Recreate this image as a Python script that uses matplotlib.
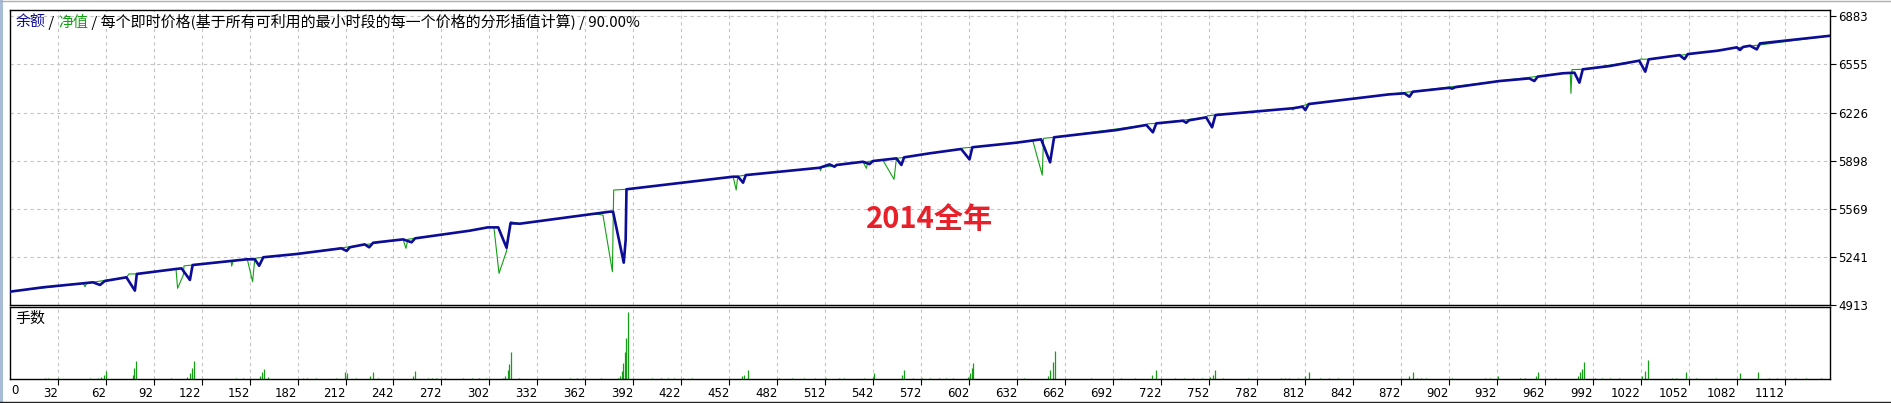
import matplotlib.pyplot as plt
from matplotlib.lines import Line2D
import numpy as np

plt.rcParams['font.family'] = ['DejaVu Sans', 'Noto Sans CJK SC']

# balance line (trade number, value)
bal_n = [2.2, 23, 48, 54, 58.5, 61.5, 75, 80.3, 81.5, 106, 109.5, 114.7, 116.4,
         150.3, 155.3, 158, 160.6, 181.3, 209.4, 212.7, 214.7, 224, 226.8, 229.3,
         248, 253.3, 255.5, 289.5, 301, 307.5, 312.7, 315.2, 321, 377.2, 379.3,
         386, 387.2, 387.7, 454.4, 457.5, 460.6, 462.3, 508.5, 514.7, 517.8, 519,
         535.6, 539.7, 541.8, 556.5, 559.6, 561.3, 577, 597, 602.2, 604, 631.4,
         647, 652.6, 655.1, 694, 712.8, 716.9, 719, 735.7, 737.7, 739.5, 750.2,
         753.9, 756, 804.3, 810.5, 812.2, 814.3, 864.6, 874.2, 877.3, 879.4,
         902.3, 904, 906, 933.6, 952.3, 955.4, 957.5, 973.2, 980.5, 983.6, 985.7,
         1002.3, 1021, 1024.8, 1026.9, 1046.2, 1049.3, 1051.4, 1058.5, 1070,
         1082, 1084, 1086, 1090.3, 1094.5, 1096.5, 1140.3]
bal_v = [5004, 5034, 5061, 5068, 5050, 5077, 5102, 5011, 5125, 5159, 5163, 5084, 5186,
         5225, 5225, 5181, 5239, 5261, 5300, 5282, 5307, 5327, 5307, 5338,
         5361, 5341, 5368, 5420, 5443, 5443, 5304, 5471, 5468, 5550, 5550,
         5202, 5357, 5703, 5789, 5789, 5748, 5800, 5850, 5873, 5857, 5869,
         5891, 5875, 5896, 5914, 5869, 5921, 5948, 5978, 5907, 5990, 6021,
         6044, 5887, 6058, 6107, 6142, 6092, 6153, 6171, 6157, 6174, 6194,
         6126, 6210, 6256, 6267, 6244, 6285, 6351, 6358, 6335, 6369,
         6396, 6390, 6400, 6442, 6460, 6442, 6472, 6495, 6499, 6431, 6522,
         6544, 6581, 6506, 6590, 6619, 6592, 6626, 6635, 6649,
         6672, 6654, 6675, 6683, 6658, 6699, 6751]

# equity line
eq_n = [2.2, 48, 49.1, 50.2, 75, 76.6, 81.5, 106, 107, 110.6, 111, 116.4, 140.5,
        140.8, 141.8, 150.6, 153.9, 155.3, 160.6, 181.3, 248, 249.8, 251, 255.5,
        289.5, 301, 304.8, 308, 312.7, 315.2, 321, 366.7, 373, 378.9, 379.7, 387.7,
        454.4, 456.3, 457.3, 462.3, 508.5, 509, 509.8, 535.6, 537.7, 538.7, 548,
        555, 556.5, 561.3, 577, 597, 598, 604, 631.4, 641.8, 647.7, 648.5, 655.1,
        712.8, 713.5, 719, 750.2, 751, 756, 804, 804.5, 805.5, 814.3, 864.6,
        973.2, 977.9, 978.3, 979, 985.7, 1021, 1021.7, 1026.9, 1140.3]
eq_v = [5004, 5061, 5038, 5063, 5102, 5125, 5125, 5159, 5027, 5118, 5180, 5186, 5212,
        5179, 5214, 5225, 5072, 5232, 5239, 5261, 5361, 5300, 5362, 5368,
        5420, 5443, 5443, 5129, 5281, 5482, 5468, 5536, 5527, 5140, 5698, 5703,
        5789, 5698, 5792, 5800, 5850, 5830, 5852, 5891, 5846, 5893, 5903,
        5771, 5914, 5921, 5948, 5978, 5985, 5990, 6021, 6034, 5800, 6051, 6058,
        6142, 6150, 6153, 6194, 6205, 6210, 6256, 6244, 6258, 6285, 6351,
        6495, 6497, 6358, 6520, 6522, 6581, 6592, 6590, 6751]

# lots per trade
lot_n = [24, 26, 32, 52, 57, 59, 61, 62, 79, 80, 81, 103, 113, 115, 116, 117.4,
         143.6, 147.8, 158.6, 159.7, 161.1, 163.4, 185.4, 188.2, 193.7, 206.3,
         211.6, 213, 218.8, 227.5, 229, 232.2, 254, 255.5, 263.4, 266.1, 268.9,
         274.5, 285.6, 291.2, 295.4, 299.6, 310.7, 312, 313.5, 314.3, 315.4, 320.4,
         352.5, 356.7, 360.8, 372, 382.4, 383.8, 384.6, 385.7, 386.6, 387.4, 388.5,
         403.6, 409.2, 413.4, 417.6, 423.2, 428.7, 459.7, 461, 463.6, 483, 491.5,
         498.4, 505.4, 512.3, 520.7, 523.5, 536, 541.7, 542.6, 559.8, 561.2,
         566.7, 572.2, 577.8, 583.4, 587.5, 591.7, 601.1, 602.5, 603.9, 604.7,
         636.3, 651.4, 652.8, 654.2, 655.6, 678, 697, 705.9, 716.6, 718.8, 731,
         736.5, 742, 747.6, 752.6, 754.3, 756, 761, 776.2, 796.8, 799.5, 802.3,
         807.8, 812, 814.2, 821.6, 827.1, 832.6, 876.8, 879.5, 882, 884.8, 887.5,
         904, 924.6, 927.4, 932.6, 946.6, 949.4, 956.6, 958, 968.6, 982.5, 983.8,
         985.2, 986.6, 993.4, 997.5, 1003, 1008.5, 1022.6, 1024.6, 1026.8, 1041.4,
         1044.2, 1050.2, 1056.5, 1068.9, 1084, 1095, 1101.9, 1107.4, 1118.4,
         1125.3, 1134.9]
lot_v = [0.01, 0.01, 0.01, 0.01, 0.01, 0.02, 0.04, 0.07, 0.04, 0.1, 0.16, 0.01, 0.02, 0.05, 0.1, 0.16,
         0.01, 0.01, 0.03, 0.06, 0.09, 0.02, 0.01, 0.01, 0.01, 0.01,
         0.06, 0.05, 0.01, 0.03, 0.06, 0.01, 0.03, 0.07, 0.01, 0.01, 0.01,
         0.01, 0.01, 0.01, 0.01, 0.01, 0.01, 0.03, 0.08, 0.13, 0.24, 0.01,
         0.01, 0.01, 0.01, 0.01, 0.01, 0.03, 0.07, 0.14, 0.24, 0.37, 0.6,
         0.01, 0.01, 0.01, 0.01, 0.01, 0.01, 0.03, 0.04, 0.08, 0.01, 0.01,
         0.01, 0.01, 0.01, 0.01, 0.01, 0.01, 0.02, 0.05, 0.04, 0.08,
         0.01, 0.01, 0.01, 0.01, 0.01, 0.01, 0.02, 0.05, 0.1, 0.14,
         0.01, 0.03, 0.08, 0.15, 0.25, 0.01, 0.01, 0.01, 0.04, 0.08, 0.01,
         0.01, 0.01, 0.01, 0.02, 0.04, 0.08, 0.01, 0.01, 0.01, 0.01, 0.01,
         0.01, 0.03, 0.06, 0.01, 0.01, 0.01, 0.03, 0.06, 0.01, 0.01, 0.01,
         0.01, 0.01, 0.01, 0.03, 0.01, 0.01, 0.03, 0.06, 0.01, 0.03, 0.06,
         0.09, 0.15, 0.01, 0.01, 0.01, 0.01, 0.03, 0.07, 0.17, 0.01,
         0.01, 0.06, 0.01, 0.01, 0.05, 0.06, 0.01, 0.01, 0.01,
         0.01, 0.01]

y_ticks = [4913, 5241, 5569, 5898, 6226, 6555, 6883]
x_ticks = [32, 62, 92, 122, 152, 182, 212, 242, 272, 302, 332, 362, 392, 422, 452,
           482, 512, 542, 572, 602, 632, 662, 692, 722, 752, 782, 812, 842, 872,
           902, 932, 962, 992, 1022, 1052, 1082, 1112]

W, H = 1891, 403
fig = plt.figure(figsize=(W / 100, H / 100), dpi=100)
fig.patch.set_facecolor('white')

ax1 = fig.add_axes([10 / W, (H - 305) / H, 1820 / W, 295 / H])
ax2 = fig.add_axes([10 / W, (H - 379) / H, 1820 / W, 72 / H])

blue = '#0c0c96'
green = '#14a014'
grid_kw = dict(color='#c4c4c4', linestyle=(0, (3, 3)), linewidth=0.8)

# main panel
ax1.plot(eq_n, eq_v, color=green, lw=0.8, zorder=3)
ax1.plot(bal_n, bal_v, color=blue, lw=1.9, zorder=4, solid_joinstyle='round')
ax1.set_xlim(2.2, 1140.3)
ax1.set_ylim(4913, 6927)
ax1.set_xticks(x_ticks)
ax1.set_yticks(y_ticks)
ax1.tick_params(axis='x', length=0, labelbottom=False)
ax1.yaxis.tick_right()
ax1.tick_params(axis='y', direction='out', length=4, width=0.8, pad=2,
                labelsize=8.5, colors='black')
ax1.grid(True, **grid_kw)
ax1.set_axisbelow(True)
for s in ax1.spines.values():
    s.set_linewidth(1.0)

ax1.text(577, 5497, '2014全年', color='#e8202a', fontsize=21, fontweight='bold',
         family=['Noto Sans CJK SC'], ha='center', va='center', zorder=5)

# title pieces
cjk = ['Noto Sans CJK SC']
t = ax1.text(0.003, 0.955, '余额', color='#0c0c96', fontsize=10.8, family=cjk,
             transform=ax1.transAxes, va='center', ha='left')
for txt, col in [(' / ', 'black'), ('净值', '#14a014'),
                 (' / 每个即时价格(基于所有可利用的最小时段的每一个价格的分形插值计算) / 90.00%', 'black')]:
    t = ax1.annotate(txt, xy=(1, 0), xycoords=t, va='bottom', ha='left',
                     color=col, fontsize=10.8, family=cjk)

# lots panel
ax2.vlines(lot_n, 0, lot_v, color=green, lw=0.9)
ax2.set_xlim(2.2, 1140.3)
ax2.set_ylim(0, 0.645)
ax2.set_yticks([])
ax2.set_xticks(x_ticks)
ax2.set_xticklabels([str(v) for v in x_ticks], ha='right')
ax2.tick_params(axis='x', direction='out', length=4, width=0.8, pad=1.5,
                labelsize=8.5, colors='black')
ax2.grid(True, axis='x', **grid_kw)
ax2.set_axisbelow(True)
for s in ax2.spines.values():
    s.set_linewidth(1.0)
ax2.text(0.003, 0.83, '手数', fontsize=10.8, family=cjk, transform=ax2.transAxes,
         va='center', ha='left')

fig.text(11 / W, 1 - 391 / H, '0', fontsize=8.5, ha='left', va='center')

# window frame bits
fig.add_artist(Line2D([1 / W, 1 / W], [0, 1], color='#a8bcd8', lw=2.2))
fig.add_artist(Line2D([0, 1], [1 - 0.5 / H, 1 - 0.5 / H], color='#b0b0b0', lw=1))
fig.add_artist(Line2D([0, 1], [1.5 / H, 1.5 / H], color='#202020', lw=1))

fig.savefig('out.png', dpi=100)
